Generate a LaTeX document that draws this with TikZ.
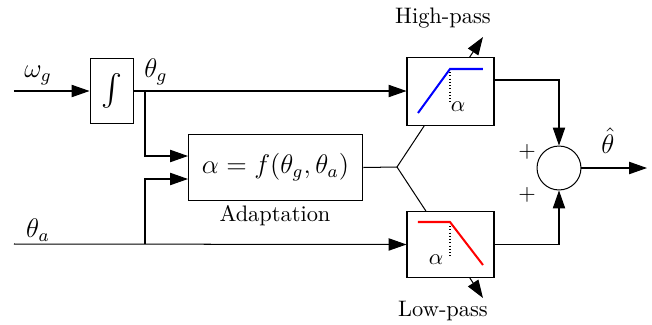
\documentclass[tikz,border=0pt]{standalone}
\usetikzlibrary{arrows.meta}
\begin{document}
\begin{tikzpicture}[x=0.446pt,y=-0.446pt,
  line width=0.45pt,
  >={Triangle[length=8pt,width=5.5pt]},
  blk/.style={draw, fill=white, inner sep=0pt, line width=0.45pt},
  lbl/.style={inner sep=0pt, font=\large},
  txt/.style={inner sep=0pt},
]
\useasboundingbox (0,0) rectangle (652,325);
% coordinates
\coordinate (wg) at (14,91);
\coordinate (ta) at (14,244);
\coordinate (bg) at (145,91);
\coordinate (ba) at (145,244);
\coordinate (a1) at (188,156);
\coordinate (a2) at (188,179);
\coordinate (j) at (397,167);
\coordinate (hpT) at (483,37);
\coordinate (lpT) at (483,298);
\coordinate (hpo) at (494,80);
\coordinate (out) at (647,168);
% adjustment arrows (behind boxes)
\draw[->] (j) -- (hpT);
\draw[->] (j) -- (lpT);
% blocks
\node[blk, minimum width=19.6pt, minimum height=29.4pt] (int) at (112,91) {\scalebox{1.4}{$\int$}};
\node[blk, minimum width=78pt, minimum height=29pt] (ad) at (275.5,167.5) {\large$\alpha=f(\theta_g,\theta_a)$};
\node[blk, minimum width=38.8pt, minimum height=29.9pt] (hp) at (450.5,91.5) {};
\node[blk, minimum width=38.8pt, minimum height=29pt] (lp) at (450.5,244.5) {};
\node[draw, circle, minimum size=19.6pt, inner sep=0pt, line width=0.45pt] (sum) at (559,168) {};
% connectors
\draw[->] (wg) -- (int.west);
\draw[->] (int.east) -- (int.east -| hp.west);
\draw[->] (bg) |- (a1);
\draw[->] (ba) |- (a2);
\draw[->] (ta) -- (lp.west);
\draw (ad.east) -- (j);
\draw[->] (hpo) -| (sum.north);
\draw[->] (lp.east) -| (sum.south);
\draw[->] (sum.east) -- (out);
% filter curves
\draw[blue, line width=0.9pt] (418,113) -- (450,69) -- (483,69);
\draw[densely dotted, line width=0.45pt] (450,72) -- (450,103);
\node[txt] (ah) at (458,107) {$\alpha$};
\draw[red, line width=0.9pt] (418,222) -- (450,222) -- (483,265);
\draw[densely dotted, line width=0.45pt] (450,226) -- (450,258);
\node[txt] (al) at (436,260) {$\alpha$};
% labels
\node[lbl] (lwg) at (38,75) {$\omega_g$};
\node[lbl] (ltg) at (156,72) {$\theta_g$};
\node[lbl] (lta) at (38,230) {$\theta_a$};
\node[txt] (lhp) at (443,18) {High-pass};
\node[txt] (llp) at (443,311) {Low-pass};
\node[txt] (lad) at (275,216) {Adaptation};
\node[txt] (p1) at (527,152) {$+$};
\node[txt] (p2) at (527,195) {$+$};
\node[lbl] (lth) at (608,141) {$\hat\theta$};
\end{tikzpicture}
\end{document}
